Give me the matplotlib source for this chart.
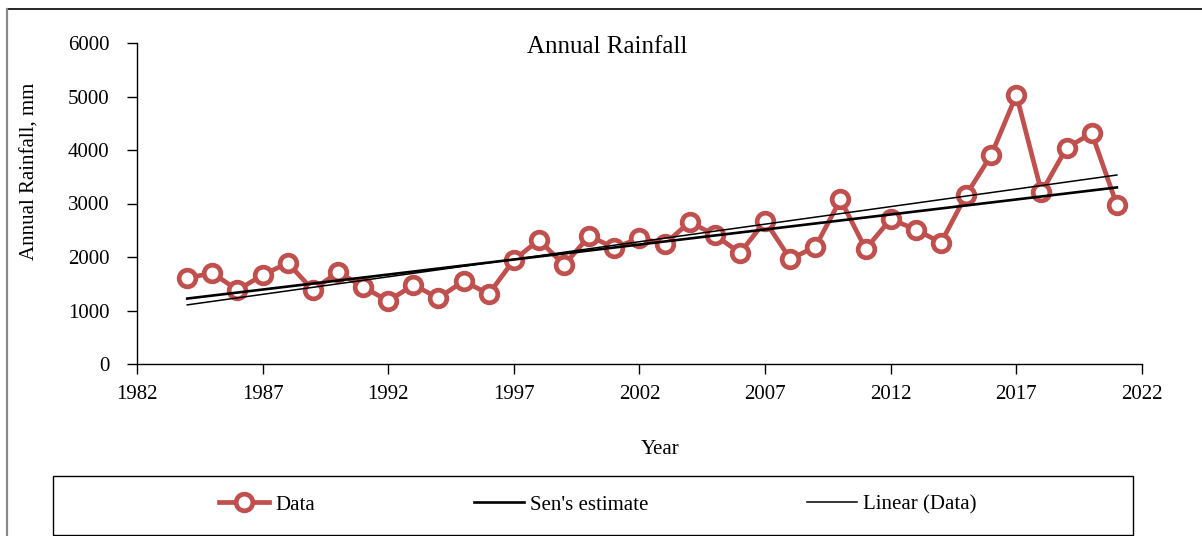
import numpy as np
import matplotlib.pyplot as plt
from matplotlib.lines import Line2D
from matplotlib.patches import Rectangle

# ── Data ──────────────────────────────────────────────────────────────────────
years = np.arange(1984, 2022)
rainfall = np.array([
    1607, 1700, 1383, 1663, 1888, 1383, 1720, 1440, 1178, 1477,
    1234, 1551, 1308, 1944, 2318, 1850, 2393, 2168, 2355, 2243,
    2654, 2411, 2075, 2673, 1963, 2190, 3075, 2150, 2710, 2510,
    2268, 3159, 3907, 5028, 3210, 4040, 4315, 2972,
])

x_ticks = [1982, 1987, 1992, 1997, 2002, 2007, 2012, 2017, 2022]
y_ticks = [0, 1000, 2000, 3000, 4000, 5000, 6000]

RED = "#C0504D"
FONT = "Liberation Serif"


def sens_line(x, y):
    """Theil-Sen slope (median of pairwise slopes) and median intercept."""
    slopes = [(y[j] - y[i]) / (x[j] - x[i])
              for i in range(len(x)) for j in range(i + 1, len(x))]
    slope = np.median(slopes)
    intercept = np.median(y - slope * x)
    return slope, intercept


ols_slope, ols_int = np.polyfit(years, rainfall, 1)
sen_slope, sen_int = sens_line(years, rainfall)

plt.rcParams["font.family"] = [FONT, "DejaVu Serif"]

fig = plt.figure(figsize=(12.02, 5.36), dpi=100)
ax = fig.add_axes([137 / 1202, 1 - 364 / 536, (1142 - 137) / 1202, (364 - 43) / 536])

ax.plot(years, rainfall, color=RED, lw=3.4, marker="o", ms=12,
        mfc="white", mec=RED, mew=3.4, zorder=3, label="Data")
ax.plot(years, sen_slope * years + sen_int, color="black", lw=1.9,
        zorder=4, label="Sen's estimate")
ax.plot(years, ols_slope * years + ols_int, color="black", lw=1.1,
        zorder=4, label="Linear (Data)")

ax.set_xlim(1982, 2022)
ax.set_ylim(0, 6000)
ax.set_xticks(x_ticks)
ax.set_yticks(y_ticks)
ax.tick_params(axis="y", direction="out", length=7, width=1, pad=13, labelsize=15)
ax.tick_params(axis="x", direction="out", length=7, width=1, pad=8, labelsize=15)
for side in ("top", "right"):
    ax.spines[side].set_visible(False)
for side in ("left", "bottom"):
    ax.spines[side].set_linewidth(1)
for ln in ax.lines:
    ln.set_clip_on(False)

# Titles and axis labels sit at fixed spots on the canvas
fig.text(607 / 1202, 1 - 47 / 536, "Annual Rainfall", ha="center", va="center", fontsize=18)
fig.text(30 / 1202, 1 - 171 / 536, "Annual Rainfall, mm", ha="center", va="center",
         rotation=90, fontsize=15)
fig.text(660 / 1202, 1 - 450 / 536, "Year", ha="center", va="center", fontsize=15)

# Legend strip along the bottom
fig.patches.append(Rectangle((53 / 1202, 1 - 535 / 536), (1133 - 53) / 1202, (535 - 476) / 536,
                             transform=fig.transFigure, fill=False, edgecolor="black", lw=1))
handles, labels = ax.get_legend_handles_labels()
fig.legend(handles, labels, loc="center", bbox_to_anchor=(598 / 1202, 1 - 505 / 536),
           ncol=3, frameon=False, fontsize=15, columnspacing=7.6, handlelength=2.4,
           handletextpad=0.3, numpoints=1)

# Outer chart border (top and left edges visible)
fig.add_artist(Line2D([7 / 1202, 1.0], [1 - 9 / 536, 1 - 9 / 536], transform=fig.transFigure,
                      color="black", lw=1.2))
fig.add_artist(Line2D([7 / 1202, 7 / 1202], [0, 1 - 9 / 536], transform=fig.transFigure,
                      color="#888888", lw=1.6))

fig.savefig("out.png", dpi=100)
